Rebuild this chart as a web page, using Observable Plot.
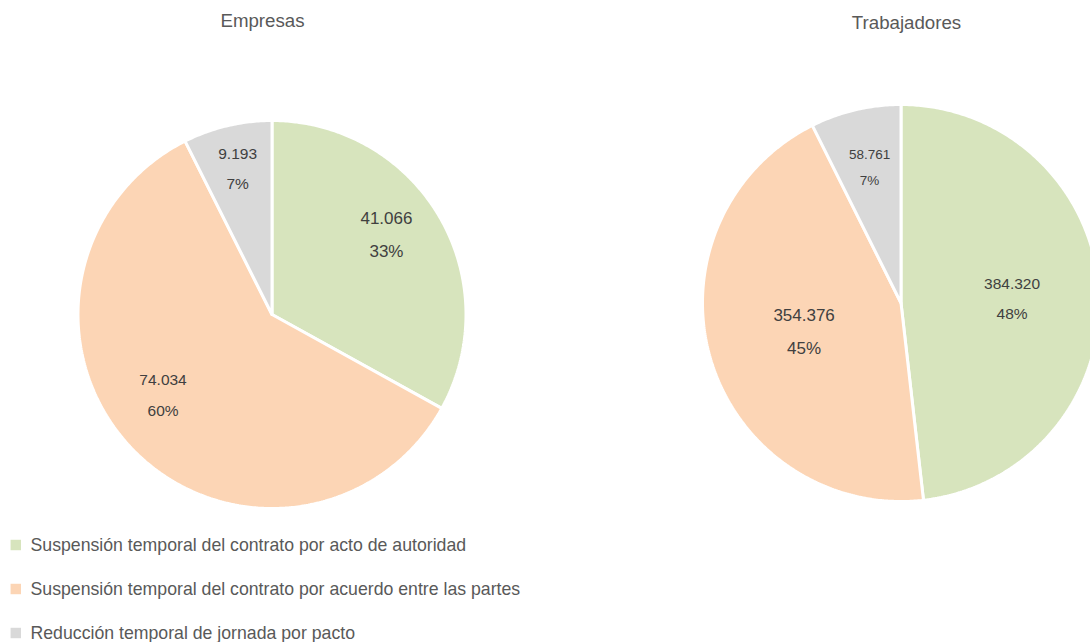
<!DOCTYPE html>
<html><head><meta charset="utf-8">
<script src="https://cdn.jsdelivr.net/npm/d3@7"></script>
<script src="https://cdn.jsdelivr.net/npm/@observablehq/plot@0.6"></script>
<style>body{margin:0;background:#fff;} svg{display:block}</style>
</head><body><div id="chart"></div>
<script>
// ---- data ----
const categories = [
  "Suspensión temporal del contrato por acto de autoridad",
  "Suspensión temporal del contrato por acuerdo entre las partes",
  "Reducción temporal de jornada por pacto"
];
const pieTitles = ["Empresas", "Trabajadores"];
const empresasValues = [41066, 74034, 9193];
const empresasLabels = ["41.066", "74.034", "9.193"];
const empresasPct = ["33%", "60%", "7%"];
const trabajadoresValues = [384320, 354376, 58761];
const trabajadoresLabels = ["384.320", "354.376", "58.761"];
const trabajadoresPct = ["48%", "45%", "7%"];
const colors = ["#d7e4bd", "#fcd5b5", "#d9d9d9"];

// ---- layout (positions / styles) ----
const W = 1090, H = 642;
const font = "'Liberation Sans', Arial, sans-serif";
const layout = [
  {cx: 271.5, cy: 314, r: 194, titleX: 262, titleY: 21,
   labelDist: [0.717, 0.70, 0.77], labelShift: [-4.1, 7.2, 0], labelSize: [17, 15.5, 15.5]},
  {cx: 900.5, cy: 302.5, r: 198.5, titleX: 906, titleY: 23,
   labelDist: [0.56, 0.51, 0.70], labelShift: [1.3, -0.3, 0.2], labelSize: [15.5, 17, 13.5]}
];
const legendLayout = {x: 15.3, textX: 30, y0: 544.5, dy: 44, size: 17.7};

const pieData = [
  {title: pieTitles[0], values: empresasValues, labels: empresasLabels, pcts: empresasPct},
  {title: pieTitles[1], values: trabajadoresValues, labels: trabajadoresLabels, pcts: trabajadoresPct}
];

const slicePts = [], labelRows = [], titleRows = [];
pieData.forEach((p, i) => {
  const L = layout[i];
  titleRows.push({text: p.title, x: L.titleX, y: L.titleY});
  const arcs = d3.pie().sort(null)(p.values);
  arcs.forEach((a, j) => {
    const key = p.title + "-" + j;
    const cat = categories[j];
    const n = Math.max(2, Math.ceil((a.endAngle - a.startAngle) / 0.01));
    slicePts.push({key, cat, x: L.cx, y: L.cy});
    for (let k = 0; k <= n; k++) {
      const t = a.startAngle + (a.endAngle - a.startAngle) * k / n;
      slicePts.push({key, cat, x: L.cx + L.r * Math.sin(t), y: L.cy - L.r * Math.cos(t)});
    }
    slicePts.push({key, cat, x: L.cx, y: L.cy});
    const m = (a.startAngle + a.endAngle) / 2 + L.labelShift[j] * Math.PI / 180;
    const d = L.labelDist[j] * L.r;
    const fs = L.labelSize[j];
    const lx = L.cx + d * Math.sin(m), ly = L.cy - d * Math.cos(m);
    const gap = fs * 1.95;
    labelRows.push({text: p.labels[j], x: lx, y: ly - gap / 2, fs});
    labelRows.push({text: p.pcts[j], x: lx, y: ly + gap / 2, fs});
  });
});

const legendRows = categories.map((c, i) => ({cat: c, x: legendLayout.x, tx: legendLayout.textX, y: legendLayout.y0 + i * legendLayout.dy}));

const chart = Plot.plot({
  width: W, height: H,
  margin: 0,
  style: {fontFamily: font, background: "#fff"},
  x: {domain: [0, W], range: [0, W], axis: null},
  y: {domain: [0, H], range: [0, H], axis: null},
  color: {domain: categories, range: colors},
  marks: [
    Plot.line(slicePts, {x: "x", y: "y", z: "key", fill: "cat", stroke: "#fff", strokeWidth: 3, strokeLinejoin: "miter", curve: "linear"}),
    Plot.text(labelRows, {x: "x", y: "y", text: "text", fontSize: "fs", fill: "#404040", textAnchor: "middle"}),
    Plot.text(titleRows, {x: "x", y: "y", text: "text", fontSize: 18.7, fill: "#595959", textAnchor: "middle"}),
    Plot.dot(legendRows, {x: "x", y: "y", fill: "cat", symbol: "square", r: 5.9}),
    Plot.text(legendRows, {x: "tx", y: "y", text: "cat", fontSize: legendLayout.size, fill: "#595959", textAnchor: "start"})
  ]
});
document.getElementById("chart").appendChild(chart);
</script>
</body></html>
